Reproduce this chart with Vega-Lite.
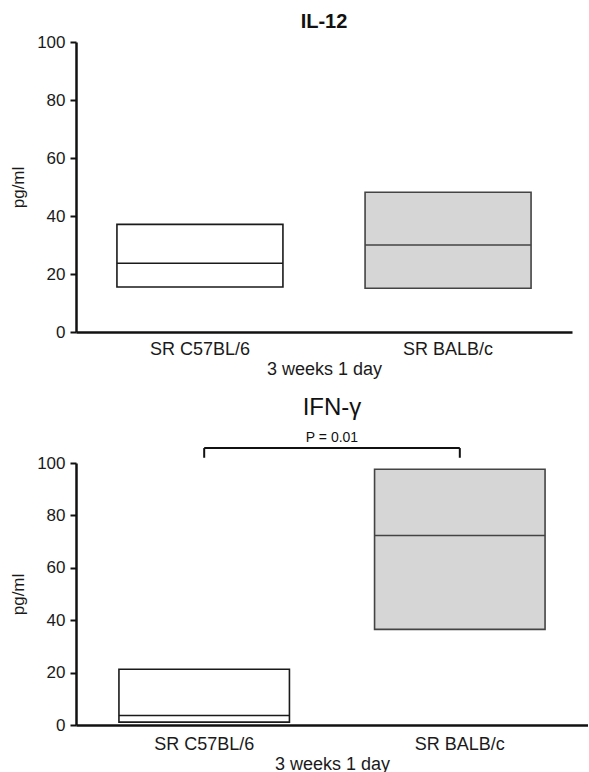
{
  "$schema": "https://vega.github.io/schema/vega-lite/v6.json",
  "autosize": {"type": "pad"},
  "padding": {"left": 9, "top": 12, "right": 0, "bottom": 0},
  "background": "white",
  "spacing": 18,
  "config": {
    "font": "Liberation Sans",
    "view": {"stroke": null},
    "axis": {
      "labelFont": "Liberation Sans",
      "titleFont": "Liberation Sans",
      "labelColor": "#1a1a1a",
      "titleColor": "#1a1a1a",
      "domainColor": "#111",
      "tickColor": "#111",
      "grid": false
    }
  },
  "datasets": {
    "il12": [
      {"group": "SR C57BL/6", "q1": 15.5, "median": 23.7, "q3": 37.1},
      {"group": "SR BALB/c", "q1": 15.1, "median": 30.0, "q3": 48.2}
    ],
    "ifng": [
      {"group": "SR C57BL/6", "q1": 1.1, "median": 3.6, "q3": 21.3},
      {"group": "SR BALB/c", "q1": 36.5, "median": 72.3, "q3": 97.6}
    ],
    "legs": [
      {"group": "SR C57BL/6", "bottom": 102, "top": 105.7},
      {"group": "SR BALB/c", "bottom": 102, "top": 105.7}
    ],
    "span": [
      {"from": "SR C57BL/6", "to": "SR BALB/c", "y": 105.7}
    ]
  },
  "vconcat": [
    {
      "width": 496,
      "height": 290,
      "title": {"text": "IL-12", "fontSize": 20, "fontWeight": "bold", "color": "#111", "anchor": "middle", "frame": "group", "offset": 1},
      "data": {"name": "il12"},
      "encoding": {
        "x": {
          "field": "group", "type": "nominal",
          "scale": {"domain": ["SR C57BL/6", "SR BALB/c"], "paddingInner": 0.331, "paddingOuter": 0.165},
          "axis": {"title": "3 weeks 1 day", "labelAngle": 0, "labelFontSize": 18, "titleFontSize": 18, "titleFontWeight": "normal", "ticks": false, "labelPadding": 8, "titlePadding": 2, "domainWidth": 2.5}
        }
      },
      "layer": [
        {
          "mark": {"type": "bar", "strokeWidth": 1.6},
          "encoding": {
            "y": {
              "field": "q1", "type": "quantitative",
              "scale": {"domain": [0, 100], "nice": false, "zero": true},
              "axis": {"title": "pg/ml", "values": [0, 20, 40, 60, 80, 100], "labelFontSize": 17, "titleFontSize": 17, "titleFontWeight": "normal", "tickSize": 6, "tickWidth": 2, "domainWidth": 2.5, "labelPadding": 5, "titlePadding": 9}
            },
            "y2": {"field": "q3"},
            "fill": {"field": "group", "type": "nominal", "scale": {"domain": ["SR C57BL/6", "SR BALB/c"], "range": ["#ffffff", "#d6d6d6"]}, "legend": null},
            "stroke": {"field": "group", "type": "nominal", "scale": {"domain": ["SR C57BL/6", "SR BALB/c"], "range": ["#1a1a1a", "#444444"]}, "legend": null}
          }
        },
        {
          "mark": {"type": "bar", "fillOpacity": 0, "strokeWidth": 1.6},
          "encoding": {
            "y": {"field": "median", "type": "quantitative"},
            "y2": {"field": "median"},
            "stroke": {"field": "group", "type": "nominal", "legend": null}
          }
        }
      ]
    },
    {
      "width": 512,
      "height": 262,
      "title": {"text": "IFN-γ", "subtitle": "P = 0.01", "fontSize": 24, "fontWeight": "normal", "color": "#111", "subtitleFontSize": 14, "subtitleColor": "#111", "subtitlePadding": 11, "anchor": "middle", "frame": "group", "offset": 2},
      "encoding": {
        "x": {
          "field": "group", "type": "nominal",
          "scale": {"domain": ["SR C57BL/6", "SR BALB/c"], "paddingInner": 0.333, "paddingOuter": 0.168},
          "axis": {"title": "3 weeks 1 day", "labelAngle": 0, "labelFontSize": 18, "titleFontSize": 18, "titleFontWeight": "normal", "ticks": false, "labelPadding": 10, "titlePadding": 2, "domainWidth": 2.5}
        }
      },
      "layer": [
        {
          "data": {"name": "ifng"},
          "mark": {"type": "bar", "strokeWidth": 1.6},
          "encoding": {
            "y": {
              "field": "q1", "type": "quantitative",
              "scale": {"domain": [0, 100], "nice": false, "zero": true},
              "axis": {"title": "pg/ml", "values": [0, 20, 40, 60, 80, 100], "labelFontSize": 17, "titleFontSize": 17, "titleFontWeight": "normal", "tickSize": 6, "tickWidth": 2, "domainWidth": 2.5, "labelPadding": 5, "titlePadding": 9}
            },
            "y2": {"field": "q3"},
            "fill": {"field": "group", "type": "nominal", "scale": {"domain": ["SR C57BL/6", "SR BALB/c"], "range": ["#ffffff", "#d6d6d6"]}, "legend": null},
            "stroke": {"field": "group", "type": "nominal", "scale": {"domain": ["SR C57BL/6", "SR BALB/c"], "range": ["#1a1a1a", "#444444"]}, "legend": null}
          }
        },
        {
          "data": {"name": "ifng"},
          "mark": {"type": "bar", "fillOpacity": 0, "strokeWidth": 1.6},
          "encoding": {
            "y": {"field": "median", "type": "quantitative"},
            "y2": {"field": "median"},
            "stroke": {"field": "group", "type": "nominal", "legend": null}
          }
        },
        {
          "data": {"name": "legs"},
          "mark": {"type": "rule", "color": "#111", "strokeWidth": 2},
          "encoding": {
            "y": {"field": "bottom", "type": "quantitative"},
            "y2": {"field": "top"}
          }
        },
        {
          "data": {"name": "span"},
          "mark": {"type": "rule", "color": "#111", "strokeWidth": 2},
          "encoding": {
            "x": {"field": "from", "type": "nominal"},
            "x2": {"field": "to"},
            "y": {"field": "y", "type": "quantitative"}
          }
        }
      ]
    }
  ]
}
